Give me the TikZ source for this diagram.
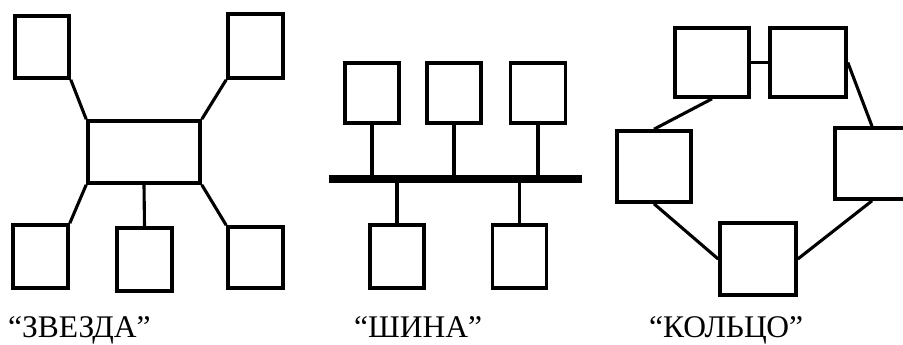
\documentclass[tikz,border=0pt]{standalone}
\usepackage{fontspec}
\setmainfont{Liberation Serif}
\begin{document}
\begin{tikzpicture}[x=1pt,y=-1pt,
  pc/.style={draw,line width=3.6pt,inner sep=0pt,minimum width=#1},
  pc/.default=55pt,
  wire/.style={line width=3.1pt},
  trunk/.style={line width=8pt},
  caption/.style={anchor=base west,inner sep=0pt,font=\fontsize{31.5}{31.5}\selectfont}]
\clip (0,0) rectangle (903,345);
\fill[white] (0,0) rectangle (903,345);

% star topology
\node[pc=54pt,minimum height=62pt] (s1) at (42,47) {};
\node[pc,minimum height=64pt] (s2) at (255.5,46) {};
\node[pc=112pt,minimum height=62pt] (hub) at (144,152) {};
\node[pc,minimum height=63pt] (s3) at (40.5,256.5) {};
\node[pc,minimum height=63pt] (s4) at (144.5,259.5) {};
\node[pc,minimum height=61pt] (s5) at (255.5,257.5) {};
\draw[wire] (s1.south east) -- (hub.north west);
\draw[wire] (s2.south west) -- (hub.north east);
\draw[wire] (hub.south west) -- (s3.north east);
\draw[wire] (hub.south east) -- (s5.north west);
\draw[wire] (hub.south) -- (s4.north);
\node[caption] (t1) at (8,337) {“ЗВЕЗДА”};

% bus topology
\coordinate (busL) at (329,179);
\coordinate (busR) at (582,179);
\draw[trunk] (busL) -- (busR);
\node[pc=54pt,minimum height=60pt] (b1) at (372,93) {};
\node[pc=54pt,minimum height=60pt] (b2) at (454,93) {};
\node[pc,minimum height=60pt] (b3) at (538,93) {};
\node[pc=54pt,minimum height=63pt] (b4) at (397,256.5) {};
\node[pc=54pt,minimum height=63pt] (b5) at (519.5,256.5) {};
\foreach \b in {b1,b2,b3}
  \draw[wire] (\b.south) -- (\b.south |- busL);
\foreach \b in {b4,b5}
  \draw[wire] (\b.north) -- (\b.north |- busL);
\node[caption] (t2) at (354,337) {“ШИНА”};

% ring topology
\node[pc=74pt,minimum height=69pt] (r1) at (712,62.5) {};
\node[pc=76pt,minimum height=69pt] (r2) at (808,62.5) {};
\node[pc=74pt,minimum height=71pt] (r3) at (654,166.5) {};
\node[pc=74pt,minimum height=71pt] (r4) at (872,163.5) {};
\node[pc=76pt,minimum height=72pt] (r5) at (758,259) {};
\draw[wire] (r1.east) -- (r2.west);
\draw[wire] (r1.south) -- (r3.north);
\draw[wire] (r2.east) -- (r4.north);
\draw[wire] (r3.south) -- (r5.west);
\draw[wire] (r4.south) -- (r5.east);
\node[caption] (t3) at (649,337) {“КОЛЬЦО”};
\end{tikzpicture}
\end{document}
